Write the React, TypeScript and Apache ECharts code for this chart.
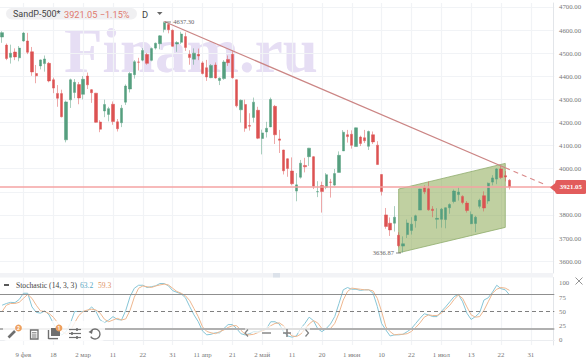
import React, { useEffect, useRef } from "react";
import * as echarts from "echarts";

const opens = [4570,4535,4482,4505,4480,4553,4553,4506,4412,4445,4455,4456,4385,4326,4325,4125,4298,4330,4364,4322,4401,4342,4327,4202,4250,4235,4279,4203,4199,4288,4345,4407,4462,4470,4494,4469,4522,4541,4603,4624,4599,4540,4547,4572,4495,4474,4495,4458,4437,4394,4449,4382,4390,4473,4495,4385,4255,4278,4187,4222,4253,4131,4159,4181,4270,4129,4081,4043,3990,3903,3963,4014,4052,4052,3900,3927,3920,3942,3929,3984,4077,4147,4149,4096,4137,4134,4097,4147,4102,3975,3800,3764,3764,3712,3665,3715,3733,3775,3821,3918,3913,3825,3781,3781,3780,3831,3858,3888,3880,3851,3762,3763,3837,3883,3860,3942,3955,3999,3970,3950];
const closes = [4589,4477,4500,4484,4522,4587,4504,4419,4402,4471,4475,4380,4349,4305,4225,4289,4385,4374,4306,4387,4363,4329,4201,4171,4278,4260,4204,4173,4262,4358,4412,4463,4461,4512,4456,4520,4543,4575,4632,4602,4530,4546,4583,4525,4481,4500,4488,4412,4397,4447,4393,4392,4462,4459,4394,4272,4296,4175,4184,4288,4132,4155,4175,4300,4147,4123,3991,4001,3935,3930,4024,4008,4089,3924,3901,3901,3974,3941,3979,4058,4158,4139,4101,4177,4109,4121,4161,4116,4018,3901,3750,3735,3790,3667,3675,3765,3760,3796,3912,3900,3822,3819,3785,3825,3831,3845,3903,3899,3854,3819,3802,3790,3863,3830,3937,3960,3999,3962,3964,3921.05];
const lows = [4545,4470,4455,4470,4465,4550,4496,4402,4370,4430,4420,4374,4327,4268,4222,4114,4263,4305,4279,4300,4345,4285,4199,4158,4223,4205,4190,4161,4180,4276,4330,4390,4425,4465,4450,4465,4516,4517,4590,4586,4528,4506,4540,4510,4450,4450,4470,4408,4380,4392,4390,4362,4385,4445,4390,4265,4200,4160,4165,4200,4128,4062,4135,4180,4107,4068,3975,3965,3928,3859,3957,3984,4012,3912,3877,3810,3911,3875,3925,3984,4077,4113,4087,4096,4098,4111,4081,4107,4017,3884,3740,3709,3728,3660,3636.87,3700,3715,3745,3821,3890,3818,3790,3741,3745,3742,3805,3850,3862,3846,3810,3760,3725,3828,3815,3848,3928,3933,3955,3945,3910];
const highs = [4595,4542,4537,4521,4531,4591,4588,4527,4449,4473,4490,4462,4394,4362,4342,4295,4390,4388,4375,4401,4416,4345,4328,4210,4299,4268,4291,4215,4276,4365,4418,4470,4480,4522,4501,4525,4546,4578,4637.3,4628,4603,4552,4593,4590,4513,4521,4520,4465,4471,4453,4460,4395,4470,4490,4514,4386,4300,4299,4240,4308,4268,4169,4203,4308,4276,4168,4082,4045,4049,3981,4038,4047,4090,4055,3946,3944,3981,3956,3999,4075,4167,4168,4166,4178,4143,4168,4165,4161,4119,3977,3830,3789,3838,3725,3707,3780,3790,3801,3913,3928,3945,3838,3829,3830,3832,3850,3910,3919,3885,3860,3815,3796,3870,3902,3940,3972,4002,4012,3990,3955];
const stochK = [61,64,66,65.5,71,82,82,58,48.5,47,51,44,29,16,8.8,14.6,29,50,50,50,51,58,50,35,30.5,35,41,36,35,52,76,90.7,96,96,92,93.5,95,99,99,95,86.5,83.6,81,74,58.5,44,32,15.7,9,10,12.6,12.6,20,27,27,20,11,8.8,11,14.6,14,17.5,20,32,32,28,14.6,7,5,7,20,29,40,34,20,14.6,20,28,41,64,88,92,89,89,87,88,88,82,58.5,29,17.5,7,9,9,10,14.6,20,29,38,46,44,41,41,50,58,67,76,80,67,47,36,41,48,70,74,84,96,90,88,79];
const stochD = [50,61,64,64,66,73,80,73,61,51,50,46.5,40,30.5,16,10,16,30,43,50,52.6,54,52.6,47,36.4,32,35,38,35,37,52,75,90.7,94.7,93.5,92,94.7,96.5,98,96.5,90.7,85,82,77.5,69,55,41,23,15,12.6,11,14.6,17.5,22,25,25,17,10,9,10,13,16,19,25,29,30,25,14.6,7,6,10,19,28,34,30,20,19,20,29,47,70,85,91,90,89,88,88,86,73,50,23,14.6,9,10,10,11,15,22,30,40,44,43,43,47,54,61,71,79,73,58,44,40,41,52,67,82,89,92,91,87];

const labelledIndexes = [5,12,19,26,33,40,47,54,61,68,75,82,89,96,103,110,117,124];
const dateLabels = ["9 фев","18","2 мар","11","22","31","11 апр","21","2 май","11","20","1 июн","10","22","1 июл","13","22","31"];
const priceTicks = [3600,3700,3800,3900,4000,4100,4200,4300,4400,4500,4600,4700];
const stochTicks = [0,25,50,75,100];
const lastPrice = 3921.05;
const trendSolid = [[38,4637.3],[118,4004]];
const trendDashed = [[118,4004],[127,3934]];
const channel = [[93,3912],[118,4023],[118,3746],[93,3636]];
const extremes = [{ idx: 38, value: 4637.3, text: "4637.30", pos: "right" }, { idx: 94, value: 3636.87, text: "3636.87", pos: "left" }];

const categoryCount = 130;
const categories = Array.from({ length: categoryCount }, (_, i) => String(i));
const ohlc = opens.map((o, i) => [o, closes[i], lows[i], highs[i]]);

const UP = "#559f7f";
const DOWN = "#dc5252";
const GRID = "#f1f3f6";
const LABEL = "#777777";
const SERIF = "'Liberation Serif', serif";
const SANS = "Roboto, sans-serif";
const ICON = "#6f6f6f";

function iconLine(x1: number, y1: number, x2: number, y2: number, w = 1.5, c = ICON) {
  return { type: "line", z: 101, silent: true, shape: { x1, y1, x2, y2 }, style: { stroke: c, lineWidth: w } };
}

function buildGraphic() {
  return [
    { type: "text", z: -1, silent: true, x: 64, y: 82, style: { text: "Finam.ru", font: "bold 63px 'Liberation Serif', serif", fill: "#e6def4", verticalAlign: "bottom" } },
    { type: "rect", z: 50, silent: true, shape: { x: 6, y: 8, width: 131, height: 11.5, r: 5.7 }, style: { fill: "#f0f0f2" } },
    { type: "text", z: 51, silent: true, x: 13, y: 14, style: { text: "SandP-500*", font: `9px ${SANS}`, fill: "#444", verticalAlign: "middle" } },
    { type: "text", z: 51, silent: true, x: 64, y: 14, style: { text: "3921.05 −1.15%", font: `9.2px ${SANS}`, fill: "#e07a6e", verticalAlign: "middle" } },
    { type: "text", z: 51, silent: true, x: 142, y: 14, style: { text: "D", font: `9.4px ${SANS}`, fill: "#444", verticalAlign: "middle" } },
    { type: "polygon", z: 51, silent: true, shape: { points: [[157, 12], [162.5, 12], [159.7, 15]] }, style: { fill: "#666" } },

    iconLine(165, 22, 171, 22, 0.7, "#555"),
    iconLine(396, 253, 401, 253, 0.7, "#555"),
    { type: "polygon", z: 60, silent: true, shape: { points: [[550, 187.5], [556, 182.5], [556, 192.5]] }, style: { fill: "#e25c5c" } },

    { type: "rect", z: 5, silent: true, shape: { x: 0, y: 273, width: 553, height: 4.5 }, style: { fill: "#f2f3f6" } },
    { type: "rect", z: 6, silent: true, shape: { x: 273, y: 273, width: 7, height: 4.5 }, style: { fill: "#dce2ea" } },

    iconLine(4, 285, 9, 285, 1.5, "#222"),
    { type: "text", z: 51, silent: true, x: 16, y: 285, style: { text: "Stochastic (14, 3, 3)", font: `7.6px ${SERIF}`, fill: "#444", verticalAlign: "middle" } },
    { type: "text", z: 51, silent: true, x: 80, y: 285, style: { text: "63.2", font: `7.6px ${SERIF}`, fill: "#5aa9c4", verticalAlign: "middle" } },
    { type: "text", z: 51, silent: true, x: 98, y: 285, style: { text: "59.3", font: `7.6px ${SERIF}`, fill: "#e0935f", verticalAlign: "middle" } },
    iconLine(575.5, 277.5, 582.5, 284.5, 0.9, "#888"),
    iconLine(582.5, 277.5, 575.5, 284.5, 0.9, "#888"),

    { type: "rect", z: 100, silent: true, shape: { x: 3, y: 321, width: 102, height: 20, r: 4 }, style: { fill: "rgba(255,255,255,0.82)" } },
    { type: "rect", z: 100, silent: true, shape: { x: 245, y: 326, width: 65, height: 7 }, style: { fill: "rgba(255,255,255,0.6)" } },

    iconLine(8.5, 337.5, 15, 331, 2.6),
    { type: "circle", z: 102, silent: true, shape: { cx: 18.5, cy: 328, r: 3.4 }, style: { fill: "#eda05e" } },
    { type: "text", z: 103, silent: true, x: 18.5, y: 328, style: { text: "2", font: `bold 5px ${SANS}`, fill: "#fff", align: "center", verticalAlign: "middle" } },

    { type: "rect", z: 101, silent: true, shape: { x: 30.5, y: 330, width: 7.5, height: 9 }, style: { fill: "none", stroke: ICON, lineWidth: 1.3 } },
    iconLine(32, 332.8, 36.5, 332.8, 1),
    iconLine(32, 335, 36.5, 335, 1),
    iconLine(32, 337, 36.5, 337, 1),

    { type: "rect", z: 101, silent: true, shape: { x: 51, y: 328, width: 9, height: 8 }, style: { fill: ICON } },
    iconLine(48.5, 330, 48.5, 339, 1.4),
    iconLine(48.5, 338.6, 58, 338.6, 1.4),
    { type: "circle", z: 102, silent: true, shape: { cx: 59, cy: 328, r: 3.4 }, style: { fill: "#eda05e" } },
    { type: "text", z: 103, silent: true, x: 59, y: 328, style: { text: "1", font: `bold 5px ${SANS}`, fill: "#fff", align: "center", verticalAlign: "middle" } },

    iconLine(69, 329.5, 81, 329.5, 1.2),
    iconLine(69, 333.5, 81, 333.5, 1.2),
    iconLine(69, 337.5, 81, 337.5, 1.2),
    iconLine(77, 328, 77, 331, 1.6),
    iconLine(72, 332, 72, 335, 1.6),
    iconLine(77, 336, 77, 339, 1.6),

    { type: "arc", z: 101, silent: true, shape: { cx: 95, cy: 334, r: 5, startAngle: -2.4, endAngle: 2.6, clockwise: true }, style: { fill: "none", stroke: ICON, lineWidth: 1.4 } },
    { type: "polygon", z: 101, silent: true, shape: { points: [[88.5, 332], [93, 329], [92, 334]] }, style: { fill: ICON } },

    { type: "polyline", z: 101, silent: true, shape: { points: [[248, 329.5], [245, 333], [248, 336.5]] }, style: { fill: "none", stroke: "#808080", lineWidth: 1.2 } },
    iconLine(262, 333, 271, 333, 1.4, "#808080"),
    iconLine(283, 333, 291, 333, 1.5, "#808080"),
    iconLine(287, 329, 287, 337, 1.5, "#808080"),
    { type: "polyline", z: 101, silent: true, shape: { points: [[305.5, 329.5], [308.5, 333], [305.5, 336.5]] }, style: { fill: "none", stroke: "#808080", lineWidth: 1.2 } },
  ];
}

function buildOption() {
  const xBase = {
    type: "category",
    data: categories,
    boundaryGap: true,
    axisTick: { show: false },
    splitLine: {
      show: true,
      alignWithLabel: true,
      interval: (i: number) => labelledIndexes.includes(i),
      lineStyle: { color: GRID, width: 1.2 },
    },
  };
  return {
    animation: false,
    backgroundColor: "#ffffff",
    graphic: buildGraphic(),
    grid: [
      { left: -0.84, top: 3, width: 555.14, height: 270 },
      { left: -0.84, top: 277.5, width: 555.14, height: 67.5 },
    ],
    xAxis: [
      { ...xBase, gridIndex: 0, axisLine: { show: false }, axisLabel: { show: false } },
      {
        ...xBase,
        gridIndex: 1,
        axisLine: { show: true, lineStyle: { color: "#ebedf0" } },
        axisLabel: {
          show: true,
          interval: (i: number) => labelledIndexes.includes(i),
          formatter: (_: string, i: number) => {
            const k = labelledIndexes.indexOf(i);
            return k >= 0 ? dateLabels[k] : "";
          },
          margin: 6,
          fontFamily: SERIF,
          fontSize: 6.8,
          color: LABEL,
          hideOverlap: false,
        },
      },
    ],
    yAxis: [
      {
        type: "value",
        gridIndex: 0,
        position: "right",
        offset: -1.3,
        min: 3548.5,
        max: 4717.3,
        axisLine: { show: true, lineStyle: { color: "#e2e5e9" } },
        axisTick: { show: false, customValues: priceTicks },
        axisLabel: { customValues: priceTicks, margin: 6, fontFamily: SERIF, fontSize: 6.8, color: LABEL, formatter: (v: number) => v.toFixed(2) },
        splitLine: { show: true, lineStyle: { color: GRID, width: 1 } },
      },
      {
        type: "value",
        gridIndex: 1,
        position: "right",
        offset: -1.3,
        min: -8.8,
        max: 109.6,
        axisLine: { show: true, lineStyle: { color: "#e2e5e9" } },
        axisTick: { show: false, customValues: stochTicks },
        axisLabel: { customValues: stochTicks, margin: 6, fontFamily: SERIF, fontSize: 6.8, color: LABEL, formatter: (v: number) => String(v) },
        splitLine: { show: false },
      },
    ],
    series: [
      {
        type: "custom",
        name: "Channel",
        xAxisIndex: 0,
        yAxisIndex: 0,
        z: 1,
        silent: true,
        clip: false,
        data: [0],
        renderItem: (_: unknown, api: any) => ({
          type: "polygon",
          shape: { points: channel.map(([i, v]) => api.coord([i, v])) },
          style: { fill: "rgba(135,165,75,0.52)", stroke: "#8fac6c", lineWidth: 0.8 },
        }),
      },
      {
        type: "candlestick",
        name: "SandP-500*",
        xAxisIndex: 0,
        yAxisIndex: 0,
        z: 3,
        barWidth: 2.8,
        data: ohlc,
        itemStyle: { color: UP, color0: DOWN, borderColor: UP, borderColor0: DOWN, borderWidth: 0.5 },
        markLine: {
          silent: true,
          symbol: "none",
          lineStyle: { color: "#f5a3a3", width: 1.5, type: "solid" },
          data: [{ yAxis: lastPrice }],
          label: {
            show: true,
            position: "end",
            distance: 1,
            formatter: lastPrice.toFixed(2),
            backgroundColor: "#e25c5c",
            color: "#ffffff",
            fontFamily: SERIF,
            fontWeight: "bold",
            fontSize: 6.8,
            padding: [3.5, 4.5, 3.5, 4.5],
            borderRadius: 2,
          },
        },
      },
      {
        type: "line",
        name: "Trend",
        xAxisIndex: 0,
        yAxisIndex: 0,
        z: 4,
        symbol: "none",
        silent: true,
        data: trendSolid,
        lineStyle: { color: "#cb8584", width: 1.3 },
        markPoint: {
          silent: true,
          symbol: "circle",
          symbolSize: 0,
          data: extremes.map((e) => ({
            coord: [e.idx, e.value],
            label: {
              show: true,
              position: e.pos,
              distance: 9,
              formatter: e.text,
              fontFamily: SERIF,
              fontSize: 6.5,
              color: "#666666",
            },
          })),
        },
      },
      {
        type: "line",
        name: "Trend extension",
        xAxisIndex: 0,
        yAxisIndex: 0,
        z: 4,
        symbol: "none",
        silent: true,
        data: trendDashed,
        lineStyle: { color: "#d98a8a", width: 1.2, type: [5, 4] },
      },
      {
        type: "line",
        name: "%K",
        xAxisIndex: 1,
        yAxisIndex: 1,
        z: 4,
        symbol: "none",
        silent: true,
        data: stochK,
        lineStyle: { color: "#86c5d6", width: 1 },
        markLine: {
          silent: true,
          symbol: "none",
          label: { show: false },
          data: [
            { yAxis: 80, lineStyle: { color: "#8f8f8f", width: 1, type: "solid" } },
            { yAxis: 50, lineStyle: { color: "#808080", width: 1, type: [4, 3] } },
            { yAxis: 20, lineStyle: { color: "#b0b0b0", width: 2.2, type: "solid" } },
          ],
        },
      },
      {
        type: "line",
        name: "%D",
        xAxisIndex: 1,
        yAxisIndex: 1,
        z: 4,
        symbol: "none",
        silent: true,
        data: stochD,
        lineStyle: { color: "#eeb78f", width: 1 },
      },
    ],
  };
}

export default function App() {
  const ref = useRef<HTMLDivElement>(null);
  useEffect(() => {
    document.body.style.margin = "0";
    const chart = echarts.init(ref.current!, undefined, { renderer: "svg" });
    chart.setOption(buildOption() as any);
    return () => chart.dispose();
  }, []);
  return <div ref={ref} style={{ width: 586, height: 361 }} />;
}
